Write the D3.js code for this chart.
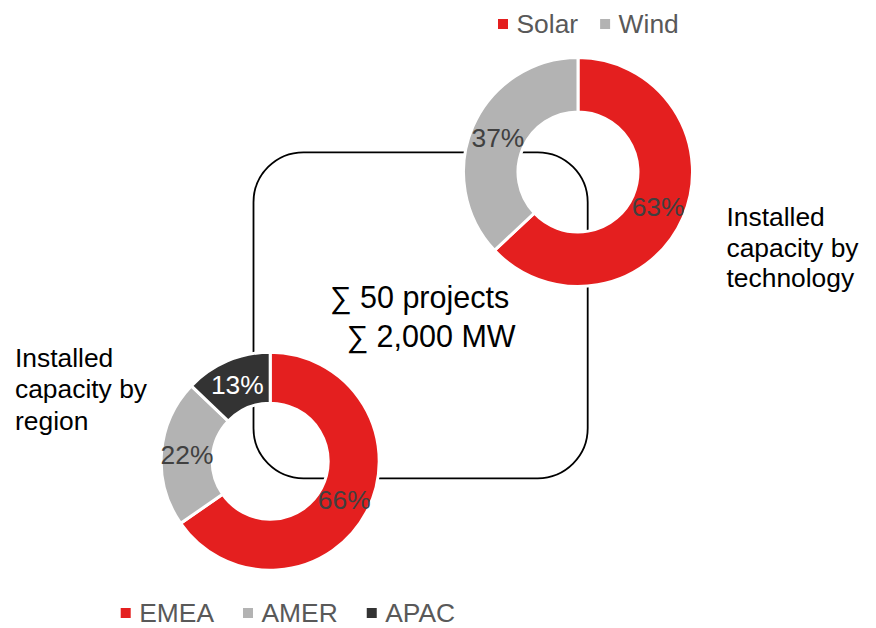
<!DOCTYPE html>
<html>
<head>
<meta charset="utf-8">
<script src="https://cdn.jsdelivr.net/npm/d3@7"></script>
<style>
  html, body { margin: 0; padding: 0; background: #fff; }
  svg { display: block; }
  text { font-family: "Liberation Sans", Arial, sans-serif; }
</style>
</head>
<body>
<svg id="chart" width="876" height="628"></svg>
<script>
// Installed capacity by technology
const techCategories = ["Solar", "Wind"];
const techValues = [63, 37];

// Installed capacity by region
const regionCategories = ["EMEA", "AMER", "APAC"];
const regionValues = [66, 22, 13];

// Portfolio totals
const summaryLines = ["∑ 50 projects", "∑ 2,000 MW"];

const palette = { red: "#e41f1f", grey: "#b3b3b3", dark: "#333333" };
const techColors = [palette.red, palette.grey];
const regionColors = [palette.red, palette.grey, palette.dark];
const techLabelColors = ["#404040", "#404040"];
const regionLabelColors = ["#404040", "#404040", "#ffffff"];

const svg = d3.select("#chart");
const FONT = 26.4;

// Rounded frame linking the two rings (drawn first, visible through the holes)
svg.append("rect")
  .attr("x", 253.5).attr("y", 152.3)
  .attr("width", 334.2).attr("height", 326)
  .attr("rx", 50).attr("ry", 50)
  .attr("fill", "none")
  .attr("stroke", "#000")
  .attr("stroke-width", 1.8);

function donut(cx, cy, rOuter, rInner, cats, vals, colors, labelColors) {
  const pie = d3.pie().sort(null).value(d => d.v);
  const arc = d3.arc().innerRadius(rInner).outerRadius(rOuter);
  const data = pie(cats.map((c, i) => ({ c, v: vals[i], i })));
  const g = svg.append("g").attr("transform", `translate(${cx},${cy})`);
  g.selectAll("path").data(data).join("path")
    .attr("d", arc)
    .attr("fill", d => colors[d.data.i])
    .attr("stroke", "#fff")
    .attr("stroke-width", 3)
    .attr("stroke-linejoin", "miter");
  g.selectAll("text").data(data).join("text")
    .attr("transform", d => `translate(${arc.centroid(d)})`)
    .attr("text-anchor", "middle")
    .attr("dy", "0.35em")
    .attr("font-size", FONT)
    .attr("fill", d => labelColors[d.data.i])
    .text(d => d.data.v + "%");
}

donut(578, 172, 114.5, 60, techCategories, techValues, techColors, techLabelColors);
donut(270.2, 461.2, 109, 58, regionCategories, regionValues, regionColors, regionLabelColors);

function legend(x, baseline, cats, colors, gap) {
  let cursor = x;
  cats.forEach((c, i) => {
    svg.append("rect")
      .attr("x", cursor).attr("y", baseline - 14)
      .attr("width", 10).attr("height", 10)
      .attr("fill", colors[i]);
    const t = svg.append("text")
      .attr("x", cursor + 18.5).attr("y", baseline)
      .attr("font-size", FONT)
      .attr("fill", "#595959")
      .text(c);
    cursor += 18.5 + t.node().getComputedTextLength() + gap;
  });
}

legend(498, 33, techCategories, techColors, 22);
legend(120.7, 622, regionCategories, regionColors, 29);

function block(x, baseline, lines, size, anchor, color, lineH) {
  const t = svg.append("text")
    .attr("font-size", size)
    .attr("fill", color)
    .attr("text-anchor", anchor);
  lines.forEach((l, i) => {
    t.append("tspan").attr("x", Array.isArray(x) ? x[i] : x)
      .attr("y", baseline + i * lineH).text(l);
  });
}

block(726.5, 226, ["Installed", "capacity by", "technology"], FONT, "start", "#000", 30.5);
block(15, 366.5, ["Installed", "capacity by", "region"], FONT, "start", "#000", 31.5);
block([419.5, 431], 308, summaryLines, 30.5, "middle", "#000", 39);
</script>
</body>
</html>
